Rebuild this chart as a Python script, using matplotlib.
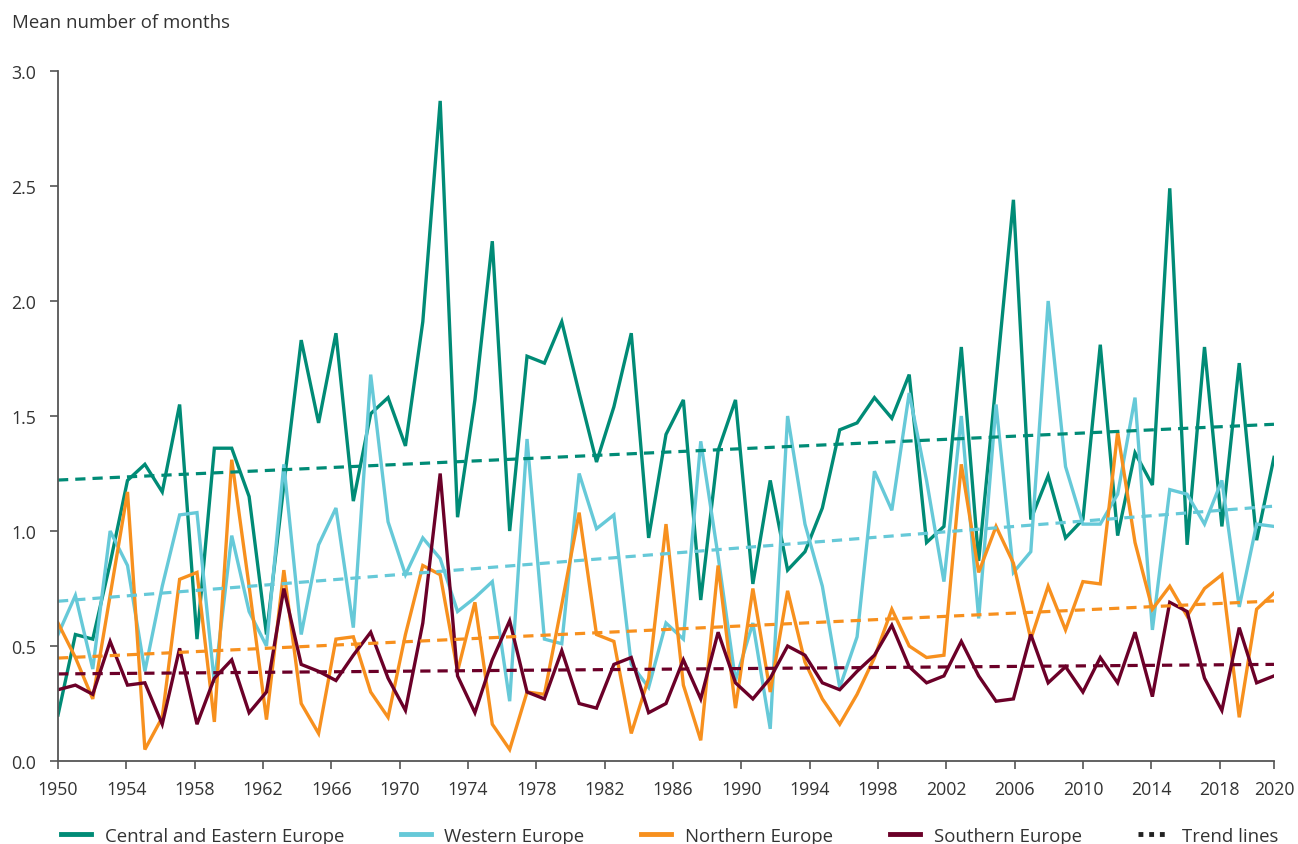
import numpy as np
import matplotlib
matplotlib.use('Agg')
import matplotlib.pyplot as plt
from matplotlib.lines import Line2D

plt.rcParams['font.family'] = ['Open Sans', 'DejaVu Sans']

years = list(range(1950, 2021))

central_eastern = [
    0.20, 0.55, 0.53, 0.86, 1.22, 1.29, 1.17, 1.55, 0.53, 1.36,
    1.36, 1.15, 0.55, 1.20, 1.83, 1.47, 1.86, 1.13, 1.51, 1.58,
    1.37, 1.91, 2.87, 1.06, 1.57, 2.26, 1.00, 1.76, 1.73, 1.91,
    1.60, 1.30, 1.54, 1.86, 0.97, 1.42, 1.57, 0.70, 1.35, 1.57,
    0.77, 1.22, 0.83, 0.91, 1.10, 1.44, 1.47, 1.58, 1.49, 1.68,
    0.95, 1.02, 1.80, 0.87, 1.65, 2.44, 1.05, 1.24, 0.97, 1.05,
    1.81, 0.98, 1.34, 1.20, 2.49, 0.94, 1.80, 1.02, 1.73, 0.96,
    1.32]
western = [
    0.55, 0.72, 0.40, 1.00, 0.85, 0.39, 0.76, 1.07, 1.08, 0.34,
    0.98, 0.65, 0.50, 1.29, 0.55, 0.94, 1.10, 0.58, 1.68, 1.04,
    0.81, 0.97, 0.88, 0.65, 0.71, 0.78, 0.26, 1.40, 0.53, 0.51,
    1.25, 1.01, 1.07, 0.42, 0.32, 0.60, 0.53, 1.39, 0.89, 0.35,
    0.60, 0.14, 1.50, 1.03, 0.76, 0.32, 0.54, 1.26, 1.09, 1.60,
    1.22, 0.78, 1.50, 0.62, 1.55, 0.82, 0.91, 2.00, 1.28, 1.03,
    1.03, 1.16, 1.58, 0.57, 1.18, 1.16, 1.03, 1.22, 0.67, 1.03,
    1.02]
northern = [
    0.60, 0.45, 0.27, 0.72, 1.17, 0.05, 0.19, 0.79, 0.82, 0.17,
    1.31, 0.76, 0.18, 0.83, 0.25, 0.12, 0.53, 0.54, 0.30, 0.19,
    0.55, 0.85, 0.81, 0.39, 0.69, 0.16, 0.05, 0.30, 0.29, 0.68,
    1.08, 0.55, 0.52, 0.12, 0.36, 1.03, 0.33, 0.09, 0.85, 0.23,
    0.75, 0.30, 0.74, 0.43, 0.27, 0.16, 0.29, 0.45, 0.66, 0.50,
    0.45, 0.46, 1.29, 0.82, 1.02, 0.86, 0.53, 0.76, 0.57, 0.78,
    0.77, 1.43, 0.95, 0.66, 0.76, 0.63, 0.75, 0.81, 0.19, 0.66,
    0.73]
southern = [
    0.31, 0.33, 0.29, 0.52, 0.33, 0.34, 0.16, 0.49, 0.16, 0.36,
    0.44, 0.21, 0.30, 0.75, 0.42, 0.39, 0.35, 0.46, 0.56, 0.36,
    0.22, 0.60, 1.25, 0.37, 0.21, 0.44, 0.61, 0.30, 0.27, 0.48,
    0.25, 0.23, 0.42, 0.45, 0.21, 0.25, 0.44, 0.27, 0.56, 0.34,
    0.27, 0.36, 0.50, 0.46, 0.34, 0.31, 0.39, 0.46, 0.59, 0.41,
    0.34, 0.37, 0.52, 0.37, 0.26, 0.27, 0.55, 0.34, 0.41, 0.30,
    0.45, 0.34, 0.56, 0.28, 0.69, 0.65, 0.36, 0.22, 0.58, 0.34,
    0.37]

labels = ['Central and Eastern Europe', 'Western Europe', 'Northern Europe', 'Southern Europe']
colors = ['#008b76', '#66c9d8', '#f7901e', '#6b0028']
series = [central_eastern, western, northern, southern]

tick_labels = [str(y) for y in range(1950, 2019, 4)] + ['2020']

fig = plt.figure(figsize=(12.98, 8.45), dpi=100)
ax = fig.add_axes([0.0447, 0.0982, 0.9368, 0.8166])

x = np.array(years)
for vals, col, lab in zip(series, colors, labels):
    ax.plot(x, vals, color=col, lw=2.4, label=lab, solid_joinstyle='miter')

# linear trend for each region
for vals, col in zip(series, colors):
    slope, icpt = np.polyfit(x, vals, 1)
    ax.plot(x, slope * x + icpt, color=col, lw=2.3, linestyle=(0, (3.2, 2.2)))

ax.set_xlim(1950, 2020)
ax.set_ylim(0, 3)
ax.set_yticks(np.arange(0, 3.01, 0.5))
ax.set_yticklabels(['%.1f' % v for v in np.arange(0, 3.01, 0.5)])

# the reference ticks sit a little tighter than the yearly points
tick_pos = list(1950 + np.arange(18) * 3.934) + [2020]
ax.set_xticks(tick_pos)
ax.set_xticklabels(tick_labels)

for s in ['top', 'right']:
    ax.spines[s].set_visible(False)
for s in ['left', 'bottom']:
    ax.spines[s].set_color('#555555')
    ax.spines[s].set_linewidth(1.3)
ax.tick_params(axis='both', colors='#555555', labelcolor='#333333', labelsize=12.8,
               length=6, width=1.2)
ax.tick_params(axis='x', pad=8)
ax.tick_params(axis='y', pad=10)

fig.text(0.009, 0.9728, 'Mean number of months', fontsize=13.4, color='#333333',
         ha='left', va='center')

handles = [Line2D([], [], color=c, lw=3.5) for c in colors]
handles.append(Line2D([], [], color='#222222', lw=3.5, linestyle=(0, (1, 1.2))))
fig.legend(handles, labels + ['Trend lines'], loc='center left',
           bbox_to_anchor=(0.034, 0.0095), ncol=5, frameon=False, fontsize=13.4,
           handlelength=1.6, handletextpad=0.75, columnspacing=3.05,
           labelcolor='#333333')

fig.savefig('out.png', dpi=100)
